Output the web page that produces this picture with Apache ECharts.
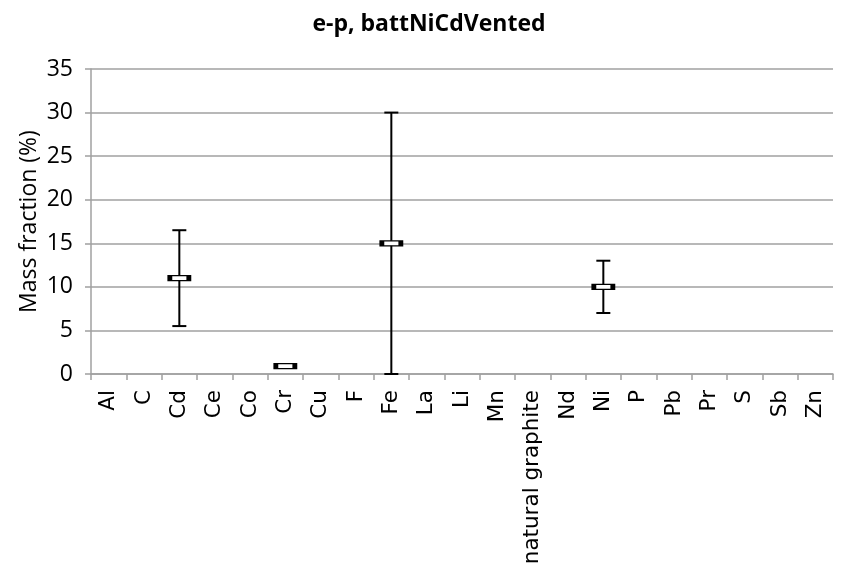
<!DOCTYPE html>
<html><head><meta charset="utf-8">
<script src="https://cdn.jsdelivr.net/npm/echarts@6/dist/echarts.min.js"></script>
<style>html,body{margin:0;padding:0;background:#fff}#c{width:858px;height:568px}</style>
</head><body><div id="c"></div>
<script>
var categories = ['Al','C','Cd','Ce','Co','Cr','Cu','F','Fe','La','Li','Mn','natural graphite','Nd','Ni','P','Pb','Pr','S','Sb','Zn'];
var meanValues = [null,null,11,null,null,0.9,null,null,15,null,null,null,null,null,10,null,null,null,null,null,null];
var lowValues  = [null,null,5.5,null,null,null,null,null,0,null,null,null,null,null,7,null,null,null,null,null,null];
var highValues = [null,null,16.5,null,null,null,null,null,30,null,null,null,null,null,13,null,null,null,null,null,null];
var yTicks = [0,5,10,15,20,25,30,35];

var errData = [];
var meanData = [];
categories.forEach(function(c,i){
  if (lowValues[i] !== null && highValues[i] !== null) errData.push([i, lowValues[i], highValues[i]]);
  if (meanValues[i] !== null) meanData.push([i, meanValues[i]]);
});

var chart = echarts.init(document.getElementById('c'));
chart.setOption({
  animation:false,
  backgroundColor:'#fff',
  title:{text:'e-p, battNiCdVented',left:'center',top:8,
    textStyle:{fontFamily:'Open Sans',fontWeight:'bold',fontSize:23,color:'#000'}},
  grid:{left:91,right:25,top:69,bottom:194,containLabel:false},
  xAxis:{type:'category',data:categories,boundaryGap:true,
    axisLine:{lineStyle:{color:'#a0a0a0',width:1.5}},
    axisTick:{show:true,interval:0,length:6,lineStyle:{color:'#a0a0a0',width:1.5}},
    axisLabel:{interval:0,rotate:90,margin:16,fontFamily:'DejaVu Sans',fontSize:21.5,color:'#000'},
    splitLine:{show:false}},
  yAxis:{type:'value',min:yTicks[0],max:yTicks[yTicks.length-1],interval:5,
    name:'Mass fraction (%)',nameLocation:'middle',nameGap:50,nameMoveOverlap:false,
    nameTextStyle:{fontFamily:'Open Sans',fontSize:23,color:'#000'},
    axisLine:{show:true,lineStyle:{color:'#a0a0a0',width:1.5}},
    axisTick:{show:true,length:6,lineStyle:{color:'#a0a0a0',width:1.5}},
    axisLabel:{fontFamily:'Open Sans',fontSize:23,color:'#000',margin:18},
    splitLine:{show:true,lineStyle:{color:'#a0a0a0',width:1.5}}},
  series:[
    {type:'custom',data:errData,z:2,
     renderItem:function(params,api){
       var x = api.value(0);
       var lo = api.coord([x, api.value(1)]);
       var hi = api.coord([x, api.value(2)]);
       var cap = 7;
       var st = {stroke:'#000',lineWidth:2};
       return {type:'group',children:[
         {type:'line',shape:{x1:lo[0],y1:lo[1],x2:hi[0],y2:hi[1]},style:st},
         {type:'line',shape:{x1:lo[0]-cap,y1:lo[1],x2:lo[0]+cap,y2:lo[1]},style:st},
         {type:'line',shape:{x1:hi[0]-cap,y1:hi[1],x2:hi[0]+cap,y2:hi[1]},style:st}
       ]};
     }},
    {type:'scatter',data:meanData,z:3,symbol:'rect',symbolSize:[19,5],
     itemStyle:{color:'#fff',borderColor:'#000',borderWidth:2.5,opacity:1}}
  ]
});
</script></body></html>
